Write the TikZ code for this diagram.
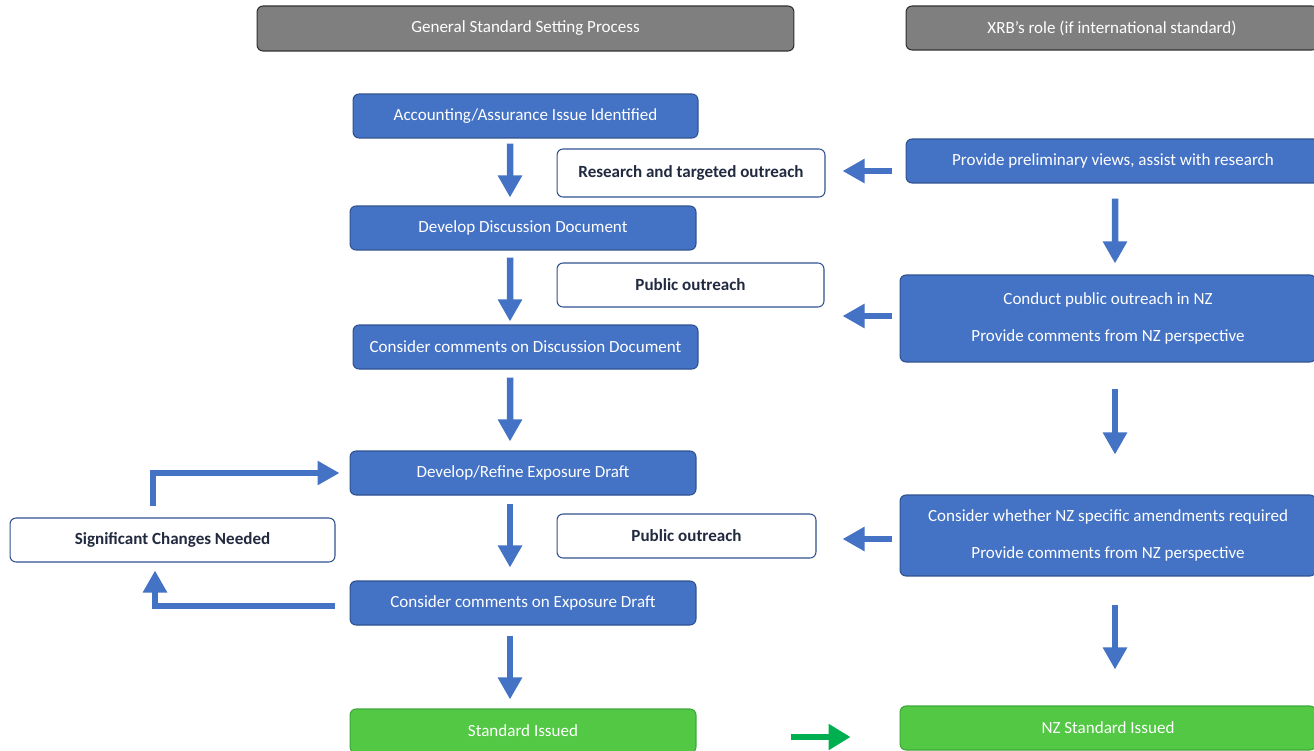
\documentclass[tikz,border=0pt]{standalone}
\usepackage{fontspec}
\setmainfont{Carlito}
\usetikzlibrary{arrows.meta}
\definecolor{boxblue}{HTML}{4472C4}
\definecolor{blueline}{HTML}{2F528F}
\definecolor{hdrgrey}{HTML}{7F7F7F}
\definecolor{hdrline}{HTML}{303030}
\definecolor{navytext}{HTML}{222A40}
\definecolor{boxgreen}{HTML}{52C844}
\definecolor{greenline}{HTML}{3DA83A}
\definecolor{arrowgreen}{HTML}{00B050}
\begin{document}
\begin{tikzpicture}[x=0.02cm, y=-0.02cm,
    font=\fontsize{9.7}{11.5}\selectfont,
    base/.style={rectangle, rounded corners=0.12cm, line width=0.6pt, align=center, inner sep=0pt},
    hdr/.style={base, draw=hdrline, fill=hdrgrey, text=white, minimum height=0.9cm},
    stage/.style={base, draw=blueline, fill=boxblue, text=white, minimum width=6.92cm, minimum height=0.88cm},
    outreach/.style={base, draw=blueline, fill=white, text=navytext, font=\fontsize{9.7}{11.5}\selectfont\bfseries, minimum height=0.88cm},
    role/.style={base, draw=blueline, fill=boxblue, text=white, minimum width=8.32cm, minimum height=0.88cm},
    issued/.style={base, draw=greenline, fill=boxgreen, text=white, minimum height=0.88cm},
    flow/.style={draw=boxblue, line width=0.13cm, line join=miter, -{Triangle[length=0.44cm,width=0.46cm]}},
    gflow/.style={draw=arrowgreen, line width=0.13cm, -{Triangle[length=0.44cm,width=0.5cm]}}]
    \useasboundingbox (0,0) rectangle (1314,750);
    \clip (0,0) rectangle (1314,750);

    % Column headers
    \node[hdr, minimum width=10.74cm] (hdrgen) at (525.5,28.5) {General Standard Setting Process};
    \node[hdr, minimum width=8.24cm, minimum height=0.88cm] (hdrxrb) at (1112,28) {XRB’s role (if international standard)};

    % General process
    \node[stage, minimum width=6.9cm] (issue) at (525.5,116) {Accounting/Assurance Issue Identified};
    \node[stage] (discdoc) at (523,228) {Develop Discussion Document};
    \node[stage, minimum width=6.9cm] (disccom) at (525.5,347) {Consider comments on Discussion Document};
    \node[stage] (expdraft) at (523,473) {Develop/Refine Exposure Draft};
    \node[stage] (expcom) at (523,603) {Consider comments on Exposure Draft};
    \node[issued, minimum width=6.92cm] (stdiss) at (523,731) {Standard Issued};

    % Outreach boxes
    \node[outreach, minimum width=5.36cm, minimum height=0.96cm] (research) at (691,173) {Research and targeted outreach};
    \node[outreach, minimum width=5.34cm] (pubout) at (690.5,285) {Public outreach};
    \node[outreach, minimum width=5.18cm] (pubouted) at (686.5,536) {Public outreach};
    \node[outreach, minimum width=6.5cm] (sigchg) at (172.5,540) {Significant Changes Needed};

    % XRB role
    \node[role, minimum width=8.28cm] (prelim) at (1113,161) {Provide preliminary views, assist with research};
    \node[role, minimum height=1.74cm] (nzout) at (1108,318.5) {Conduct public outreach in NZ\\[9.5pt]Provide comments from NZ perspective};
    \node[role, minimum height=1.62cm] (nzamend) at (1108,535.5) {Consider whether NZ specific amendments required\\[9.5pt]Provide comments from NZ perspective};
    \node[issued, minimum width=8.32cm] (nziss) at (1108,728) {NZ Standard Issued};

    % Main flow
    \draw[flow, shorten <=0.1cm, shorten >=0.16cm] ([xshift=-0.31cm]issue.south) -- ([xshift=-0.26cm]discdoc.north);
    \draw[flow, shorten <=0.14cm, shorten >=0.06cm] ([xshift=-0.26cm]discdoc.south) -- ([xshift=-0.31cm]disccom.north);
    \draw[flow, shorten <=0.16cm, shorten >=0.18cm] ([xshift=-0.31cm]disccom.south) -- ([xshift=-0.26cm]expdraft.north);
    \draw[flow, shorten <=0.16cm, shorten >=0.26cm] ([xshift=-0.26cm]expdraft.south) -- ([xshift=-0.26cm]expcom.north);
    \draw[flow, shorten <=0.2cm, shorten >=0.18cm] ([xshift=-0.26cm]expcom.south) -- ([xshift=-0.26cm]stdiss.north);

    % Loop back
    \draw[flow, shorten >=0.2cm] ([xshift=-0.39cm,yshift=0.22cm]sigchg.north) |- (expdraft.west);
    \draw[flow, shorten <=0.3cm, shorten >=0.16cm] ([yshift=-0.06cm]expcom.west) -| ([xshift=-0.35cm]sigchg.south);

    % XRB to outreach
    \draw[flow, shorten <=0.28cm, shorten >=0.34cm] ([yshift=-0.2cm]prelim.west) -- ([yshift=-0.2cm]prelim.west -| research.east);
    \draw[flow, shorten <=0.16cm, shorten >=0.36cm] ([yshift=0.05cm]nzout.west) -- ([yshift=0.05cm]nzout.west -| pubout.east);
    \draw[flow, shorten <=0.16cm, shorten >=0.52cm] ([yshift=-0.07cm]nzamend.west) -- ([yshift=-0.07cm]nzamend.west -| pubouted.east);

    % XRB flow
    \draw[flow, shorten <=0.3cm, shorten >=0.22cm] ([xshift=0.04cm]prelim.south) -- ([xshift=0.14cm]nzout.north);
    \draw[flow, shorten <=0.52cm, shorten >=0.8cm] ([xshift=0.14cm]nzout.south) -- ([xshift=0.14cm]nzamend.north);
    \draw[flow, shorten <=0.56cm, shorten >=0.72cm] ([xshift=0.14cm]nzamend.south) -- ([xshift=0.14cm]nziss.north);

    % Issued
    \draw[gflow, shorten <=1.9cm, shorten >=0.98cm] ([yshift=-0.12cm]stdiss.east) -- ([yshift=-0.12cm]stdiss.east -| nziss.west);
\end{tikzpicture}
\end{document}
